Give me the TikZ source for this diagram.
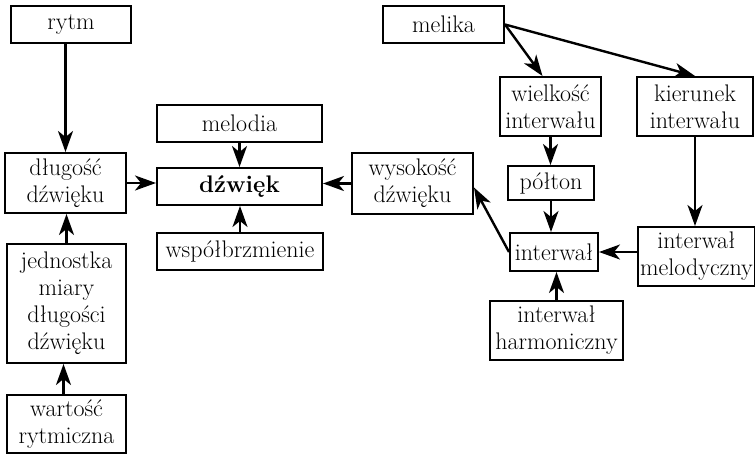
\documentclass[tikz,border=0pt]{standalone}
\usepackage{fontspec}
\usetikzlibrary{arrows.meta}
\begin{document}
\begin{tikzpicture}[x=1pt,y=-1pt,
  box/.style={draw,line width=2pt,inner sep=0pt,align=center,font=\rmfamily\fontsize{24}{27}\selectfont},
  arr/.style={line width=2.4pt,-{Stealth[length=21pt,width=15pt,inset=6pt]}}]
\useasboundingbox (0,0) rectangle (755,455);
\node[box,minimum width=120pt,minimum height=37pt] (rytm) at (71,24.5) {rytm};
\node[box,minimum width=121pt,minimum height=37pt] (melika) at (443.5,24.5) {melika};
\node[box,minimum width=101pt,minimum height=59pt] (wiel) at (550.5,106.5) {wielkość\\interwału};
\node[box,minimum width=116pt,minimum height=59pt] (kier) at (695,106.5) {kierunek\\interwału};
\node[box,minimum width=165pt,minimum height=37pt] (melodia) at (239.5,123.5) {melodia};
\node[box,minimum width=121pt,minimum height=60pt] (dlug) at (65.5,183) {długość\\dźwięku};
\node[box,minimum width=165pt,minimum height=37pt] (dzw) at (239.5,186.5) {\textbf{dźwięk}};
\node[box,minimum width=121pt,minimum height=61pt] (wys) at (412.5,183.5) {wysokość\\dźwięku};
\node[box,minimum width=86pt,minimum height=34pt] (polt) at (551,183) {półton};
\node[box,minimum width=88pt,minimum height=38pt] (int) at (554,252) {interwał};
\node[box,minimum width=117pt,minimum height=59pt] (intmel) at (696.5,256.5) {interwał\\melodyczny};
\node[box,minimum width=166pt,minimum height=37pt] (wspol) at (240,251.5) {współbrzmienie};
\node[box,minimum width=119pt,minimum height=119pt] (jedn) at (66.5,303.5) {jednostka\\miary\\długości\\dźwięku};
\node[box,minimum width=133pt,minimum height=59pt] (intharm) at (556.5,330.5) {interwał\\harmoniczny};
\node[box,minimum width=119pt,minimum height=58pt] (wart) at (66.5,424) {wartość\\rytmiczna};
\draw[arr] (dlug.north |- rytm.south) -- (dlug.north);
\draw[arr] (melodia.south) -- (dzw.north);
\draw[arr] (dlug.east) -- (dlug.east -| dzw.west);
\draw[arr] (wys.west) -- (wys.west -| dzw.east);
\draw[arr] (wspol.north) -- (wspol.north |- dzw.south);
\draw[arr] (jedn.north) -- (jedn.north |- dlug.south);
\draw[arr] ([xshift=-3pt]wart.north) -- ([xshift=-3pt]wart.north |- jedn.south);
\draw[arr] (melika.east) -- ([xshift=-8pt]wiel.north);
\draw[arr] (melika.east) -- (kier.north);
\draw[arr] (wiel.south) -- (wiel.south |- polt.north);
\draw[arr] (polt.south) -- (polt.south |- int.north);
\draw[arr] (kier.south) -- (kier.south |- intmel.north);
\draw[arr] (int.east -| intmel.west) -- (int.east);
\draw[arr] (intharm.north) -- (intharm.north |- int.south);
\draw[arr] (int.west) -- ([yshift=-4pt]wys.east);
\end{tikzpicture}
\end{document}
